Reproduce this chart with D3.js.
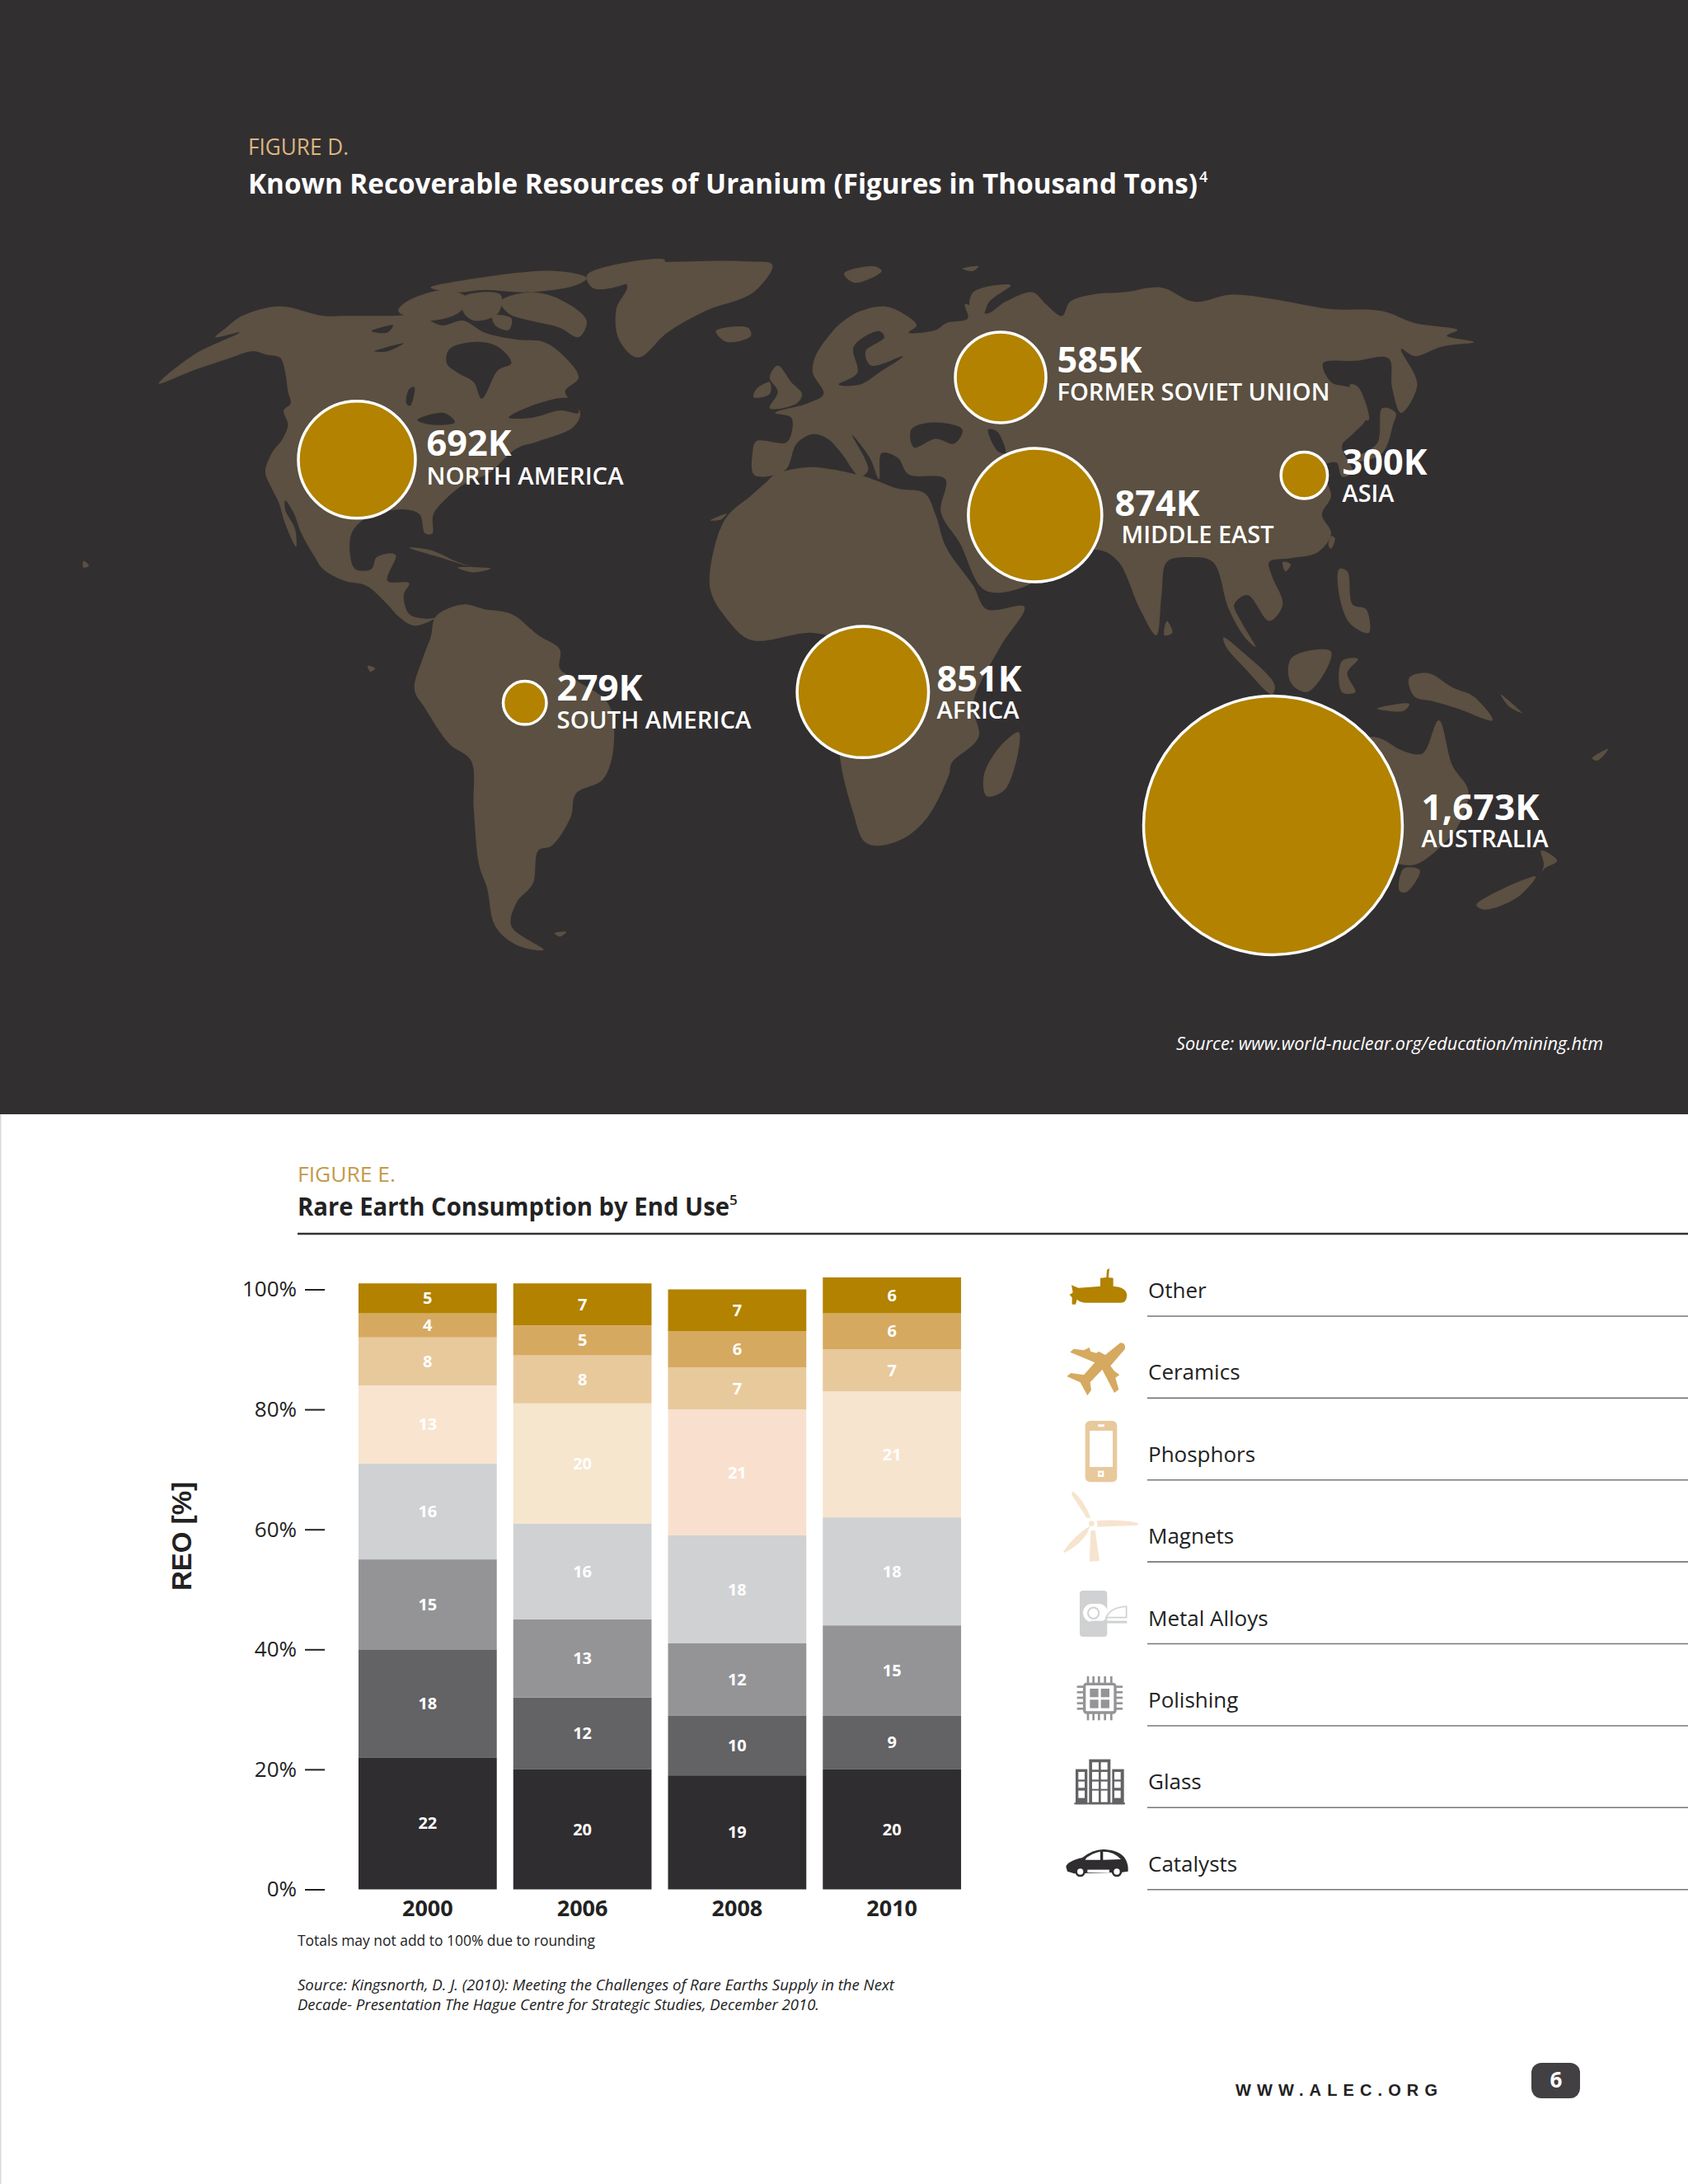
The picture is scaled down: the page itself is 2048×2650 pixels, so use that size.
<!DOCTYPE html>
<html><head><meta charset="utf-8">
<script src="https://cdn.jsdelivr.net/npm/d3@7"></script>
<style>
html,body{margin:0;padding:0;background:#fff}
svg{display:block}
text{font-family:"Open Sans",sans-serif}
</style></head><body>
<svg id="page" width="2048" height="2650"></svg>
<script>
// ---------- Figure D data ----------
const regions = ["NORTH AMERICA","SOUTH AMERICA","AFRICA","FORMER SOVIET UNION","MIDDLE EAST","ASIA","AUSTRALIA"];
const uranium = [692,279,851,585,874,300,1673];
const uraniumLabels = ["692K","279K","851K","585K","874K","300K","1,673K"];
// ---------- Figure E data ----------
const years = ["2000","2006","2008","2010"];
const endUses = ["Catalysts","Glass","Polishing","Metal Alloys","Magnets","Phosphors","Ceramics","Other"];
const catalysts = [22,20,19,20];
const glass = [18,12,10,9];
const polishing = [15,13,12,15];
const metalAlloys = [16,16,18,18];
const magnets = [13,20,21,21];
const phosphors = [8,8,7,7];
const ceramics = [4,5,6,6];
const other = [5,7,7,6];
const yTicks = [0,20,40,60,80,100];
const legendOrder = ["Other","Ceramics","Phosphors","Magnets","Metal Alloys","Polishing","Glass","Catalysts"];

// ---------- Styling ----------
const DARK="#322f31", LAND="#5b5041", GOLD="#b28200";
const useColor = d3.scaleOrdinal().domain(endUses)
  .range(["#2f2d2f","#636265","#949497","#d0d1d2","#f7e4cf","#e8c99c","#d6a960","#b28200"]);
const magnetTint = d3.scaleOrdinal().domain(years).range(["#f8e4cf","#f5e6cd","#f9e0ce","#f7e4ce"]);

// ---------- Map backdrop outline (traced, in map units) ----------
const e = pts => pts.map(([x,y])=>[x+1568,y]);
const landShapes = [
 // North America
 [[295,323],[360,295],[420,272],[470,255],[495,262],[520,268],[530,300],[535,340],[540,365],[527,380],[535,410],[525,440],[505,470],[493,510],[505,545],[518,575],[530,620],[550,668],[548,630],[530,590],[530,570],[545,595],[560,640],[585,690],[600,715],[640,740],[680,750],[720,790],[740,815],[770,835],[810,818],[790,820],[760,810],[750,770],[760,745],[720,740],[735,685],[700,690],[690,715],[660,715],[650,680],[655,635],[690,600],[730,590],[760,590],[780,600],[790,640],[803,640],[805,600],[830,565],[870,530],[905,515],[960,460],[1000,445],[1065,415],[1078,385],[1050,340],[1075,310],[1045,262],[1010,235],[960,230],[900,215],[860,190],[820,200],[780,180],[720,180],[640,180],[600,180],[520,160],[450,180],[420,205],[400,225],[445,215],[360,262]],
 // Greenland, Iceland, Arctic Canada
 [[1435,72],[1390,65],[1280,65],[1190,70],[1120,90],[1165,115],[1145,165],[1150,230],[1185,268],[1240,215],[1310,170],[1400,130]],
 [[1330,212],[1390,205],[1395,222],[1350,235]],
 [[755,150],[830,125],[870,145],[850,175],[790,190],[740,170]],
 [[930,150],[985,130],[1040,145],[1090,190],[1075,225],[1040,205],[985,190],[945,175]],
 [[1090,95],[1130,75],[1235,62],[1230,75],[1140,120],[1100,120]],
 [[800,120],[860,105],[1030,85],[1090,100],[1070,115],[980,130],[900,125],[850,130]],
 [[860,140],[930,135],[925,175],[880,190],[860,170]],
 [[915,180],[950,185],[945,210],[920,200]],
 // Caribbean and small Atlantic/Pacific islands
 [[760,670],[800,675],[850,700],[880,712],[830,695]],
 [[850,712],[912,714],[880,722]],
 [[155,698],[165,708],[155,712]],
 [[683,920],[697,925],[688,932]],
 [[1320,612],[1350,598],[1340,610]],
 [[1030,1485],[1052,1482],[1040,1492]],
 // South America
 [[810,815],[860,790],[900,800],[950,810],[1000,855],[1040,885],[1040,925],[1070,950],[1130,1000],[1140,1090],[1120,1160],[1070,1190],[1060,1240],[1025,1300],[1000,1310],[990,1380],[960,1420],[950,1470],[1010,1520],[960,1510],[920,1470],[905,1390],[890,1340],[880,1220],[875,1120],[835,1085],[790,1010],[770,970],[785,905],[800,860]],
 // Britain and Ireland
 [[1445,285],[1470,320],[1490,345],[1480,365],[1430,375],[1445,340],[1430,310]],
 [[1405,335],[1430,320],[1430,345],[1400,352]],
 // Africa
 [[1425,530],[1395,560],[1350,605],[1325,680],[1320,760],[1350,820],[1395,865],[1510,850],[1555,870],[1560,1110],[1585,1230],[1605,1290],...e([[60,1300],[110,1285],[155,1240],[195,1150],[200,1125],[250,1070],[240,1000],[290,880],[335,795],[265,800],[240,750],[190,670],[170,600],[150,555],[100,545],[40,520],[-20,505]]),[1500,500],[1440,515]],
 // Eurasia
 [[1400,515],[1398,470],[1405,445],[1460,448],[1470,430],[1470,395],[1440,385],[1500,365],[1530,345],[1510,300],[1515,265],[1545,215],[1568,190],...e([[30,170],[75,160],[110,175],[135,200],[120,215],[170,210],[190,195],[230,185],[225,155],[265,175],[300,150],[350,130],[375,155],[405,180],[420,150],[460,135],[520,130],[590,120],[650,150],[720,135],[800,145],[900,165],[1000,170],[1060,195],[1140,210],[1120,222],[1170,235],[1110,245],[1060,265],[1035,250],[1065,325],[1035,385],[1018,330],[1012,270],[950,275],[890,280],[905,320],[945,335],[970,395],[945,430],[925,455],[945,510],[925,520],[915,490],[888,500],[905,560],[888,600],[905,640],[880,680],[830,692],[790,700],[795,730],[815,790],[790,825],[750,770],[725,790],[740,830],[765,880],[745,860],[715,800],[685,700],[640,690],[600,700],[590,770],[580,855],[550,800],[510,700],[475,675],[400,690],[340,750],[262,760],[215,660],[180,595],[188,525],[120,515],[100,480],[70,470],[65,525],[48,480],[15,432],[45,505],[30,520],[-5,470],[-30,440]]),[1510,430],[1480,450],[1460,505],[1420,520]],
 // Asia-Pacific islands
 ...[
  [[705,860],[740,890],[800,960],[795,980],[745,925],[710,880]],
  [[830,905],[880,885],[905,890],[895,930],[860,975],[830,955]],
  [[925,910],[955,905],[935,935],[950,975],[925,975]],
  [[920,715],[935,720],[945,790],[970,800],[975,850],[940,830],[920,770]],
  [[990,1010],[1050,1000],[1040,1015]],
  [[1000,375],[1025,385],[1020,410],[1000,470],[950,490],[930,490],[990,450]],
  [[940,325],[955,330],[975,400],[960,395]],
  [[905,645],[912,650],[905,672],[900,665]],
  [[815,700],[830,705],[820,720]],
  [[600,825],[610,850],[595,855]],
  [[1050,945],[1085,935],[1130,965],[1170,985],[1205,1035],[1140,1010],[1095,995],[1060,985]],
  [[880,1100],[985,1070],[1040,1100],[1075,1105],[1105,1035],[1130,1130],[1160,1185],[1140,1260],[1110,1300],[1060,1340],[1000,1330],[900,1300]],
  [[1040,1348],[1070,1352],[1045,1398],[1032,1395]],
  [[1295,1310],[1325,1332],[1300,1350],[1290,1375],[1300,1340]],
  [[1175,1425],[1285,1365],[1250,1410],[1190,1435]],
  [[325,1060],[300,1180],[265,1195],[260,1150],[290,1090]],
  [[240,130],[310,115],[270,150],[255,185],[235,170]],
  [[0,90],[55,75],[70,85],[20,110]],
  [[220,80],[250,75],[240,85]],
  [[1390,1115],[1420,1095],[1400,1120]],
  [[1220,980],[1260,1020],[1235,1005]]
 ].map(e)
];
const waterShapes = [
 [[835,250],[880,235],[925,245],[950,280],[925,295],[895,355],[880,320],[850,300],[830,280]],
 [[945,395],[1000,365],[1060,355],[1075,385],[1040,380],[990,395]],
 [[775,400],[825,385],[845,405],[800,410]],
 [[760,335],[770,330],[762,370],[755,365]],
 [[690,212],[730,200],[720,215]],
 [[695,255],[750,238],[720,255]],
 ...[
  [[-10,325],[25,300],[18,245],[65,212],[75,225],[40,255],[50,285],[110,265],[65,300],[30,325]],
  [[125,420],[165,405],[220,420],[205,450],[170,440],[130,458]],
  [[268,420],[285,425],[300,470],[285,465]]
 ].map(e)
];
// Bubble anchor points on the map, in the same map units
const anchors = [[663,484],[975,998],[1603,975],[1859,310],[1923,601],[2423,517],[2365,1257]];
// Label placement: [value x, value baseline, name x, name baseline, value width, name width]
const labelPlace = [
 [517.5,553,517.5,588,103,239],[675.5,850,675.5,884,104,236],[1136.5,839,1136.5,872,103,100],
 [1282.5,452,1282.5,486,103,331],[1352.5,626,1360.5,659,103,185],[1628.5,576,1628.5,609,103,63],[1724.5,995,1724.5,1028,143,154]];

const svg = d3.select("#page");
svg.append("rect").attr("width",2048).attr("height",1352).attr("fill",DARK);
svg.append("rect").attr("y",1352).attr("width",1.5).attr("height",1298).attr("fill","#d9d9d9");

const mx = d3.scaleLinear().domain([0,3136]).range([0,2048]);
const my = d3.scaleLinear().domain([0,1568]).range([280,1180]);
const outline = d3.line().x(d=>mx(d[0])).y(d=>my(d[1])).curve(d3.curveCatmullRomClosed.alpha(0.5));
const mapG = svg.append("g");
mapG.selectAll("path.land").data(landShapes).join("path").attr("class","land").attr("d",outline).attr("fill",LAND);
mapG.selectAll("path.water").data(waterShapes).join("path").attr("class","water").attr("d",outline).attr("fill",DARK);

function txt(g,s,x,y,size,weight,fill,len,extra){
  const t=g.append("text").attr("x",x).attr("y",y).attr("font-size",size).attr("font-weight",weight).attr("fill",fill).text(s);
  if(len) t.attr("textLength",len).attr("lengthAdjust","spacingAndGlyphs");
  if(extra) extra(t);
  return t;
}
txt(svg,"FIGURE D.",301,188,27,400,"#dbb67f",122);
txt(svg,"Known Recoverable Resources of Uranium (Figures in Thousand Tons)",301,235,34,700,"#fff",1152);
txt(svg,"4",1455,221,18,600,"#fff");
txt(svg,"Source: www.world-nuclear.org/education/mining.htm",1427,1274,22,400,"#fff",518,t=>t.attr("font-style","italic"));

// Bubble radius follows the value; the reference's own sizing is slightly uneven
const rScale = d3.scaleLinear().domain([0,585,692,874,1673]).range([0,55,71,81,157]);
const bub = svg.append("g");
bub.selectAll("circle").data(uranium).join("circle")
  .attr("cx",(d,i)=>mx(anchors[i][0])).attr("cy",(d,i)=>my(anchors[i][1])).attr("r",d=>rScale(d))
  .attr("fill",GOLD).attr("stroke","#fff").attr("stroke-width",3.5);
regions.forEach((r,i)=>{
  const p=labelPlace[i];
  txt(bub,uraniumLabels[i],p[0],p[1],43,700,"#fff",p[4]);
  txt(bub,r,p[2],p[3],29,600,"#fff",p[5]);
});

// ---------- Figure E ----------
txt(svg,"FIGURE E.",361,1434,26,400,"#c49a4a",119);
txt(svg,"Rare Earth Consumption by End Use",361,1475,31,700,"#222",524);
txt(svg,"5",885,1462,17,600,"#222");
svg.append("line").attr("x1",361).attr("x2",2048).attr("y1",1497).attr("y2",1497).attr("stroke","#333").attr("stroke-width",2.5);

const seriesMap = {Catalysts:catalysts,Glass:glass,Polishing:polishing,"Metal Alloys":metalAlloys,Magnets:magnets,Phosphors:phosphors,Ceramics:ceramics,Other:other};
const rows = years.map((y,i)=>{const o={year:y};endUses.forEach(k=>o[k]=seriesMap[k][i]);return o;});
const stacked = d3.stack().keys(endUses)(rows);
const x = d3.scaleBand().domain(years).range([425,1176]).paddingInner(0.1065).paddingOuter(0.053);
const y = d3.scaleLinear().domain([0,100]).range([2292.5,1564.5]);

const chart = svg.append("g");
const layers = chart.selectAll("g.layer").data(stacked).join("g").attr("class","layer");
layers.selectAll("rect").data(s=>s.map(d=>({d,key:s.key}))).join("rect")
  .attr("x",o=>x(o.d.data.year)).attr("width",x.bandwidth())
  .attr("y",o=>y(o.d[1])).attr("height",o=>y(o.d[0])-y(o.d[1]))
  .attr("fill",o=>o.key==="Magnets"?magnetTint(o.d.data.year):useColor(o.key));
layers.selectAll("text").data(s=>s.map(d=>({d,key:s.key}))).join("text")
  .attr("x",o=>x(o.d.data.year)+x.bandwidth()/2).attr("y",o=>y((o.d[0]+o.d[1])/2)+7)
  .attr("text-anchor","middle").attr("font-size",20).attr("font-weight",700).attr("fill","#fff")
  .text(o=>o.d[1]-o.d[0]);

const yAxis = d3.axisLeft(y).tickValues(yTicks).tickFormat(d=>d+"%").tickSize(24).tickPadding(10);
const yG = chart.append("g").attr("transform","translate(394,0)").call(yAxis);
yG.select(".domain").remove();
yG.selectAll("line").attr("stroke","#222").attr("stroke-width",2);
yG.selectAll("text").attr("font-size",26).attr("fill","#222");
const xAxis = d3.axisBottom(x).tickSize(0).tickPadding(14);
const xG = chart.append("g").attr("transform","translate(0,2292)").call(xAxis);
xG.select(".domain").remove();
xG.selectAll("text").attr("font-size",27).attr("font-weight",700).attr("fill","#222");
chart.append("text").attr("transform","translate(232,1864) rotate(-90)").attr("text-anchor","middle")
  .style("font-family","'Liberation Sans'").attr("font-size",33).attr("font-weight",700).attr("fill","#222").text("REO [%]");

txt(svg,"Totals may not add to 100% due to rounding",361,2361,19,400,"#222",361);
const it=t=>t.attr("font-style","italic");
txt(svg,"Source: Kingsnorth, D. J. (2010): Meeting the Challenges of Rare Earths Supply in the Next",361,2415,19,400,"#222",724,it);
txt(svg,"Decade- Presentation The Hague Centre for Strategic Studies, December 2010.",361,2439,19,400,"#222",633,it);

// Legend
const legY = d3.scalePoint().domain(legendOrder).range([1597,2292.7]);
const leg = svg.append("g");
legendOrder.forEach(k=>{
  leg.append("line").attr("x1",1392).attr("x2",2048).attr("y1",legY(k)).attr("y2",legY(k)).attr("stroke","#777").attr("stroke-width",1.6);
  txt(leg,k,1393,legY(k)-22,26,400,"#222");
});

// Legend icons, drawn in 3x-crop units
const ic4 = svg.append("g").attr("transform","translate(1260,1520) scale(0.3333)");
const ic5 = svg.append("g").attr("transform","translate(1260,1880) scale(0.3333)");
const P=(g,d,f)=>g.append("path").attr("d",d).attr("fill",f);
const R=(g,a,b,w,h,f,r)=>g.append("rect").attr("x",a).attr("y",b).attr("width",w).attr("height",h).attr("fill",f).attr("rx",r||0);
P(ic4,"M113 153L125 145L120 118L145 128Q190 125 225 122L225 92L247 90L249 62L258 57L255 90L272 92L272 122Q320 125 322 155Q320 182 300 182L170 182Q150 180 140 170L135 188L122 188L122 163Z",useColor("Other"));
P(ic4,"M298 328Q318 328 315 350L262 412L275 430L295 445L280 455L292 498L276 510L232 425L188 472L192 500L178 520L152 472L103 450L118 438L165 445L205 400L115 362L128 350L165 355L185 345L190 360L210 365L220 360L243 372Z",useColor("Ceramics"));
R(ic4,170,612,116,223,useColor("Phosphors"),18);R(ic4,186,648,84,132,"#fff");R(ic4,216,625,24,9,"#fff",3);R(ic4,216,794,22,22,"#fff");R(ic4,223,801,8,8,useColor("Phosphors"));
const mc=useColor("Magnets");
P(ic4,"M175 965L120 880L125 868Q165 900 190 965Z",mc);P(ic4,"M212 975Q300 970 365 985L360 992L215 998Z",mc);P(ic4,"M190 1012L206 1010L222 1122L185 1124Z",mc);P(ic4,"M188 994Q130 1030 90 1088L95 1092Q150 1065 178 1020Z",mc);
ic4.append("circle").attr("cx",193).attr("cy",986).attr("r",10).attr("fill",mc);
const ac=useColor("Metal Alloys");
R(ic4,150,1230,100,168,ac,12);R(ic4,162,1278,90,66,"#fff",33);
ic4.append("circle").attr("cx",200).attr("cy",1312).attr("r",20).attr("fill","none").attr("stroke",ac).attr("stroke-width",6);
P(ic4,"M245 1328Q262 1296 300 1290L320 1288L320 1328Z","#fff").attr("stroke",ac).attr("stroke-width",5);
R(ic4,190,1340,132,9,ac);
const pc=useColor("Polishing");
ic5.append("rect").attr("x",167).attr("y",490).attr("width",112).attr("height",104).attr("rx",8).attr("fill","none").attr("stroke",pc).attr("stroke-width",10);
[[187,507],[227,507],[187,547],[227,547]].forEach(p=>R(ic5,p[0],p[1],31,31,pc));
[180,200,220,242,265].forEach(a=>{R(ic5,a-4,462,8,25,pc);R(ic5,a-4,597,8,25,pc);});
[500,520,540,560,580].forEach(b=>{R(ic5,140,b-4,25,8,pc);R(ic5,281,b-4,25,8,pc);});
const gc=useColor("Glass");
R(ic5,184,764,78,164,gc);R(ic5,135,800,43,128,gc);R(ic5,268,800,43,128,gc);R(ic5,130,922,185,6,gc);
[[775,27],[810,28],[845,27],[878,42]].forEach(r=>{R(ic5,195,r[0],24,r[1],"#fff");R(ic5,227,r[0],24,r[1],"#fff");});
[[810,28],[845,23],[878,27]].forEach(r=>{R(ic5,145,r[0],23,r[1],"#fff");R(ic5,276,r[0],23,r[1],"#fff");});
const cc=useColor("Catalysts");
P(ic5,"M100 1155Q105 1135 160 1122Q200 1090 240 1092Q295 1095 315 1125Q328 1145 326 1172L305 1175L130 1180L105 1172Z",cc);
P(ic5,"M175 1122Q200 1104 225 1100L225 1130L170 1130Z","#fff");P(ic5,"M235 1100Q275 1100 300 1128L235 1130Z","#fff");
R(ic5,178,1166,80,10,"#fff");
[[152,1173],[285,1173]].forEach(c=>ic5.append("circle").attr("cx",c[0]).attr("cy",c[1]).attr("r",15).attr("fill","#fff").attr("stroke",cc).attr("stroke-width",8));

// Footer
txt(svg,"WWW.ALEC.ORG",1499,2543,20,700,"#222",null,t=>t.style("font-family","'Liberation Sans'").attr("textLength",245).attr("lengthAdjust","spacing"));
R(svg,1858,2503,59,43,"#424042",12);
txt(svg,"6",1888,2533,26,700,"#fff",null,t=>t.attr("text-anchor","middle"));
</script>
</body></html>
